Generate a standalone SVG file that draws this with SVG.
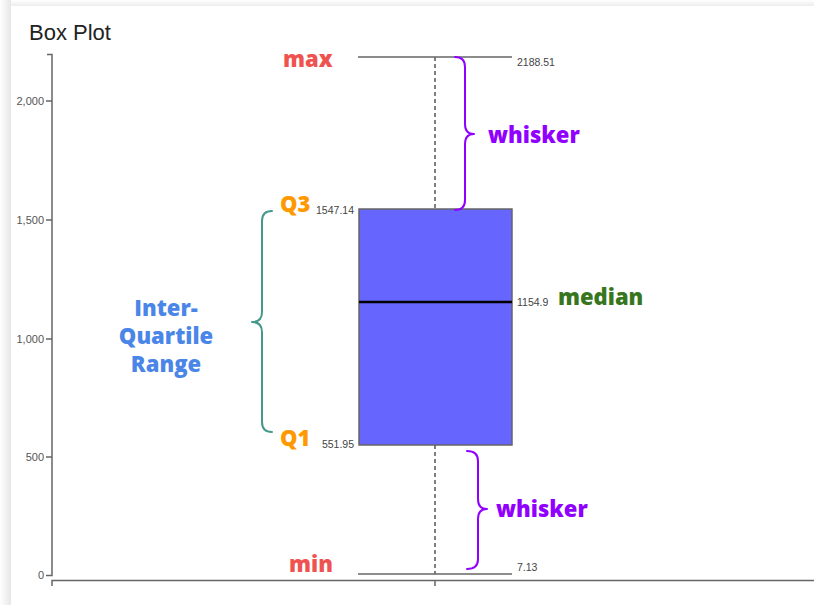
<svg xmlns="http://www.w3.org/2000/svg" width="814" height="605" viewBox="0 0 814 605">
<defs>
<linearGradient id="shTop" x1="0" y1="0" x2="0" y2="1"><stop offset="0" stop-color="#ffffff"/><stop offset="1" stop-color="#ececec"/></linearGradient>
<linearGradient id="shLeft" x1="0" y1="0" x2="1" y2="0"><stop offset="0" stop-color="#ffffff"/><stop offset="1" stop-color="#e6e6e6"/></linearGradient>
<style>
.ax{stroke:#666;stroke-width:1.5;fill:none}
.tick{font-family:"Liberation Sans",Arial,sans-serif;font-size:11px;fill:#555;text-anchor:end}
.val{font-family:"Liberation Sans",Arial,sans-serif;font-size:10.5px;fill:#444}
.lab{font-family:"Open Sans","Noto Sans",sans-serif;font-weight:800;font-size:22px}
.brace{fill:none;stroke-width:2;stroke-linecap:round;stroke-linejoin:round}
</style>
</defs>
<rect width="814" height="605" fill="#ffffff"/>
<rect x="0" y="0" width="814" height="6" fill="url(#shTop)"/>
<rect x="0" y="0" width="11" height="605" fill="url(#shLeft)"/>
<rect x="11" y="6" width="803" height="599" fill="#ffffff"/>
<text x="29" y="40" font-family="'Liberation Sans',Arial,sans-serif" font-size="22" fill="#222">Box Plot</text>
<g id="axes">
<path class="ax" d="M47,54.5H52V575.5H46"/>
<path class="ax" d="M46,101H52M46,220H52M46,339H52M46,457H52"/>
<path class="ax" d="M52,586V580.5H814M435,580.5V586"/>
<text class="tick" x="44" y="105">2,000</text>
<text class="tick" x="44" y="224">1,500</text>
<text class="tick" x="44" y="343">1,000</text>
<text class="tick" x="44" y="461">500</text>
<text class="tick" x="44" y="579">0</text>
</g>
<g id="box">
<line x1="435" y1="57" x2="435" y2="209" stroke="#555" stroke-width="1.5" stroke-dasharray="4 3"/>
<line x1="435" y1="445" x2="435" y2="574" stroke="#555" stroke-width="1.5" stroke-dasharray="4 3"/>
<line x1="358" y1="57" x2="512" y2="57" stroke="#666" stroke-width="1.5"/>
<line x1="358" y1="574" x2="512" y2="574" stroke="#666" stroke-width="1.5"/>
<rect x="359" y="209" width="153" height="236" fill="#6666ff" stroke="#666" stroke-width="1.5"/>
<line x1="359" y1="302" x2="512" y2="302" stroke="#000" stroke-width="2.5"/>
<text class="val" x="517" y="66">2188.51</text>
<text class="val" x="354" y="214" text-anchor="end">1547.14</text>
<text class="val" x="354" y="448" text-anchor="end">551.95</text>
<text class="val" x="517" y="306" font-size="10">1154.9</text>
<text class="val" x="517" y="571">7.13</text>
</g>
<g id="connectors">
<path class="brace" stroke="#9100ff" d="M455,57Q465,57 465,67V124Q465,134 474,134Q465,134 465,144V200Q465,210 455,210"/>
<path class="brace" stroke="#9100ff" d="M467,451Q478,451 478,461V499Q478,509 487,509Q478,509 478,519V559Q478,569 467,569"/>
<path class="brace" stroke="#45988a" d="M272,211Q262,211 262,221V312Q262,322 252,322Q262,322 262,332V422Q262,432 272,432"/>
</g>
<g id="labels">
<text class="lab" x="283" y="67" fill="#ef5350">max</text>
<text class="lab" x="289" y="572" fill="#ef5350">min</text>
<text class="lab" x="280" y="212" fill="#ff9900">Q3</text>
<text class="lab" x="280" y="446" fill="#ff9900">Q1</text>
<text class="lab" x="488" y="143" fill="#9100ff">whisker</text>
<text class="lab" x="496" y="517" fill="#9100ff">whisker</text>
<text class="lab" x="558" y="305" fill="#38761d">median</text>
<text class="lab" text-anchor="middle" fill="#4a86e8"><tspan x="166" y="316">Inter-</tspan><tspan x="166" y="344">Quartile</tspan><tspan x="166" y="372">Range</tspan></text>
</g>
</svg>
